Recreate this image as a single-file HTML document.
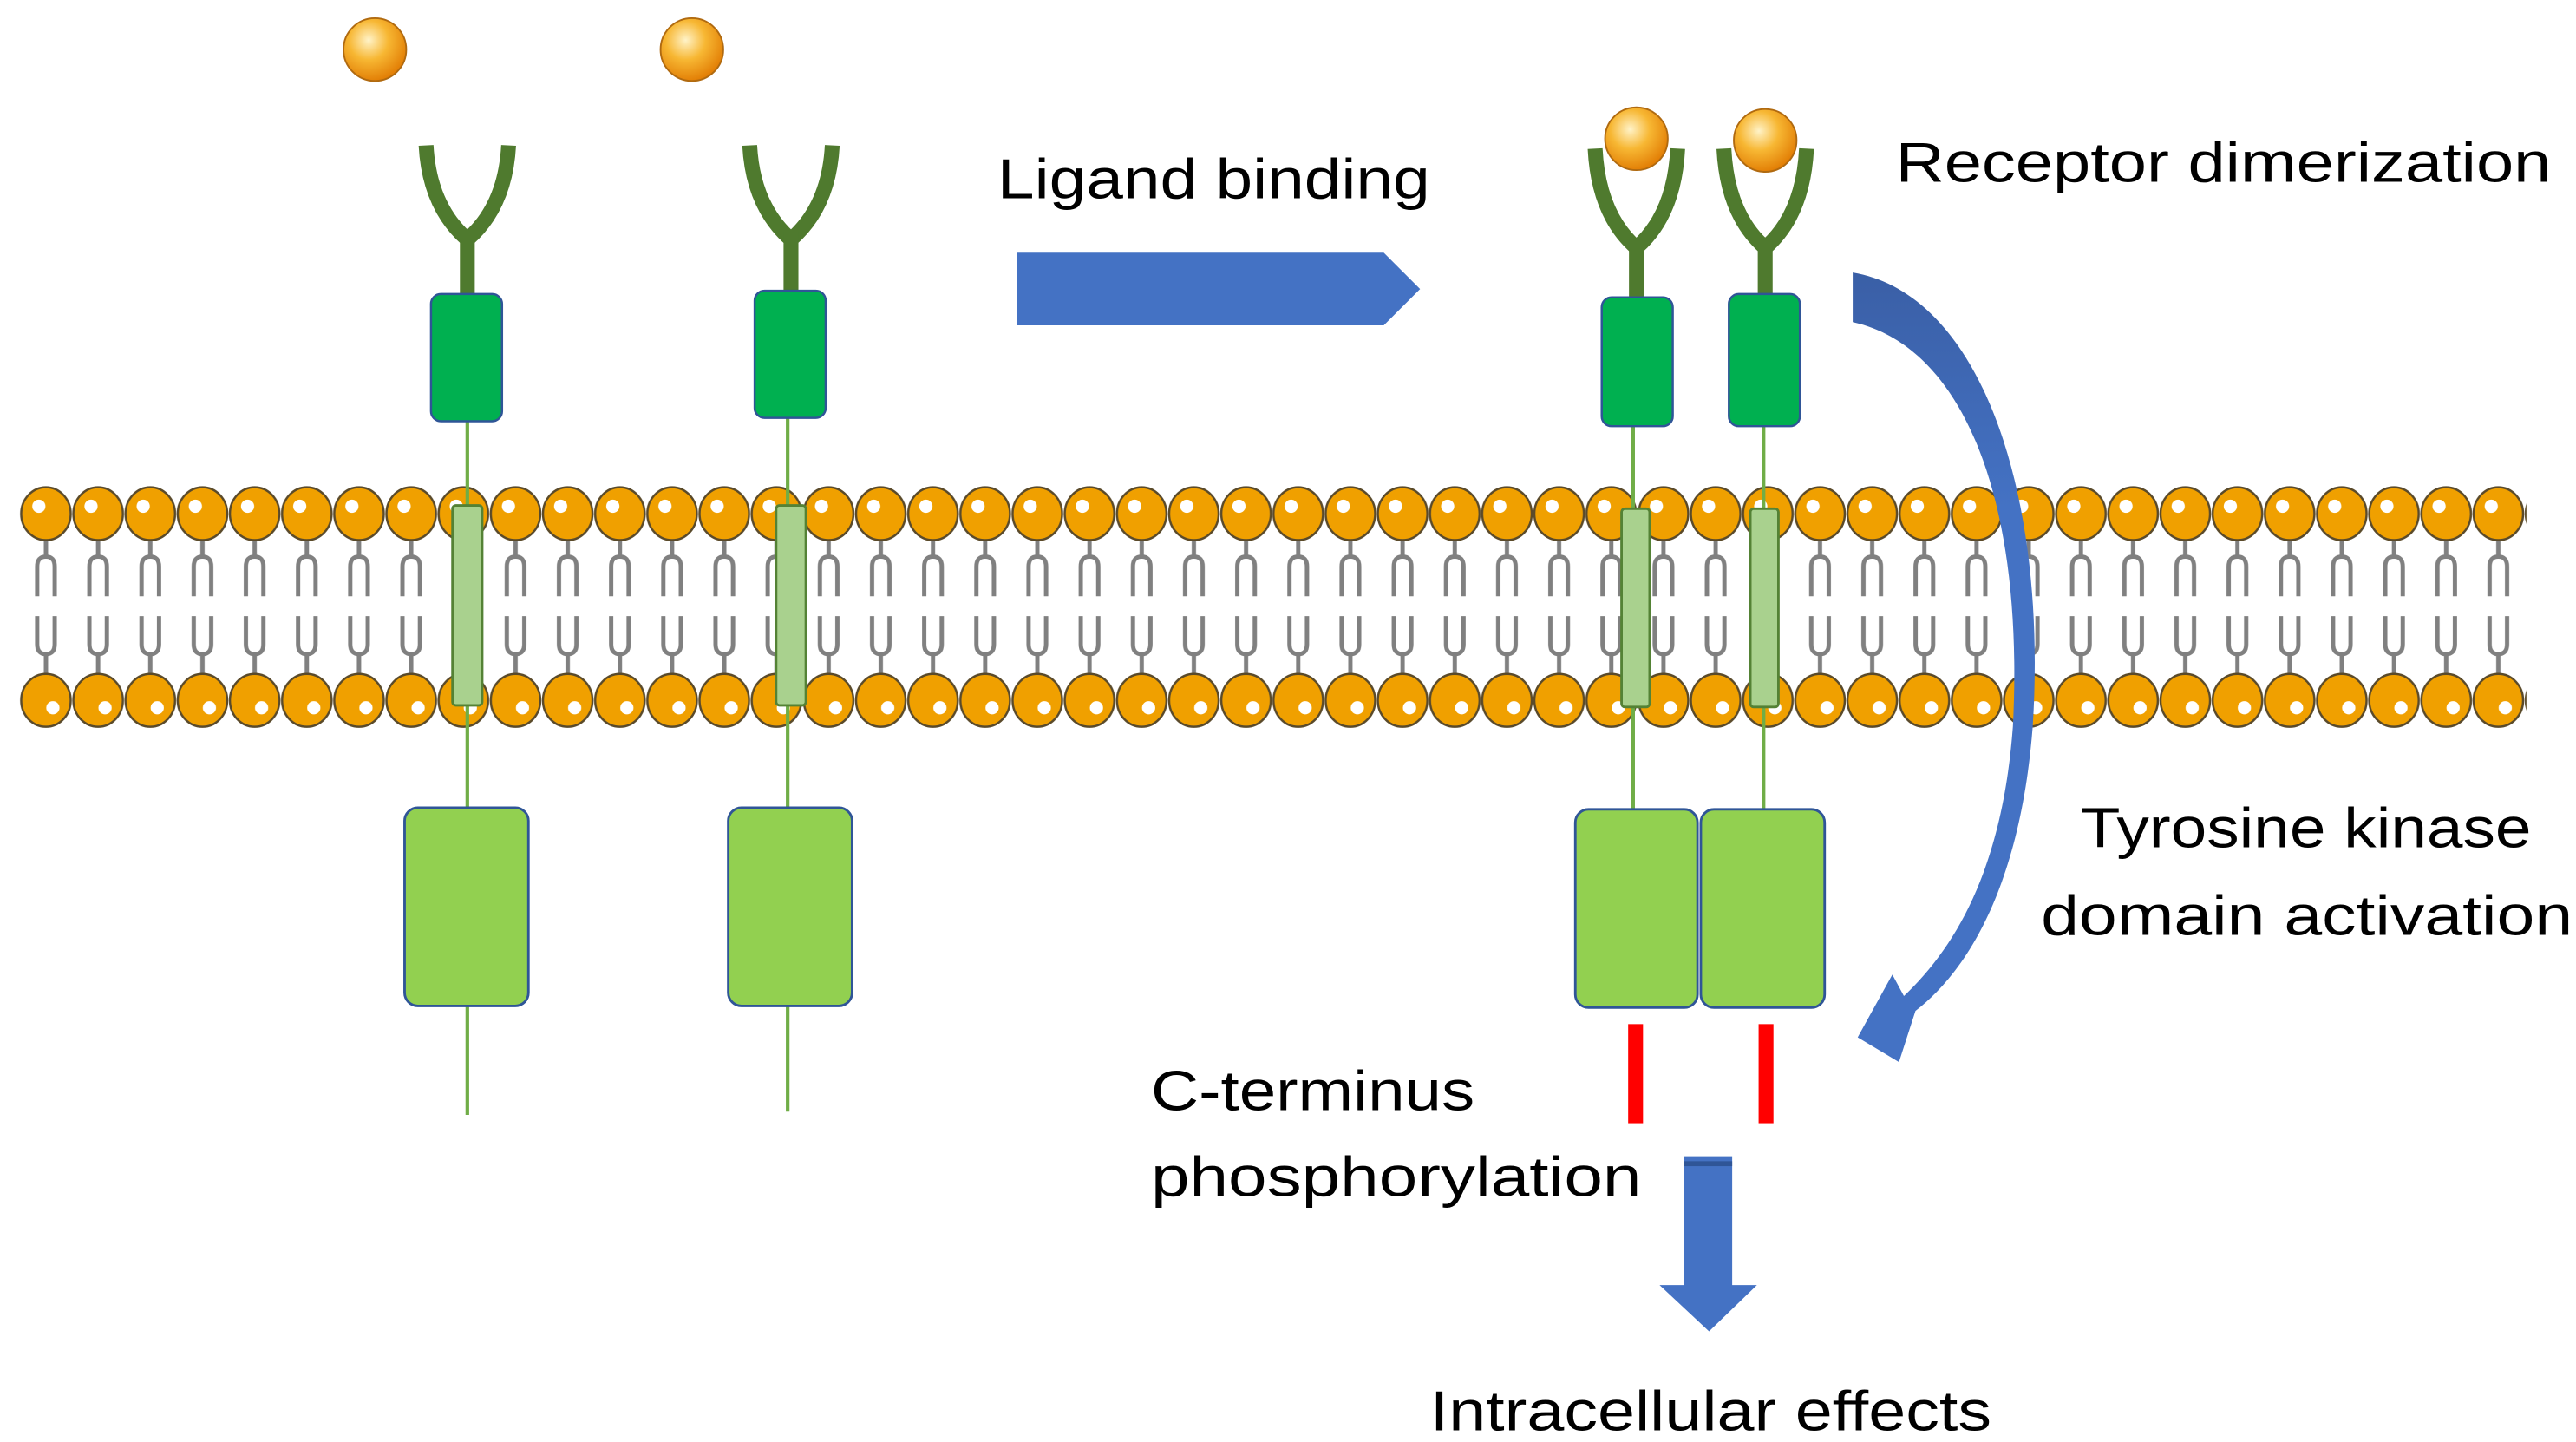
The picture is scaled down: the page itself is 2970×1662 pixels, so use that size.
<!DOCTYPE html>
<html><head><meta charset="utf-8"><style>
html,body{margin:0;padding:0;background:#fff;}
svg{display:block;}
text{font-family:"Liberation Sans",sans-serif;font-size:34px;fill:#000;}
</style></head><body>
<svg width="2970" height="1662" viewBox="0 0 1560 873" xmlns="http://www.w3.org/2000/svg">
<defs>
<radialGradient id="lg" cx="0.4" cy="0.35" r="0.7">
<stop offset="0" stop-color="#fff3c8"/><stop offset="0.45" stop-color="#f7b733"/><stop offset="1" stop-color="#e07800"/>
</radialGradient>
<linearGradient id="cg" x1="0" y1="0" x2="0" y2="1">
<stop offset="0" stop-color="#3a5fa6"/><stop offset="0.3" stop-color="#4472c4"/><stop offset="1" stop-color="#4472c4"/>
</linearGradient>
<pattern id="lip" patternUnits="userSpaceOnUse" x="12" y="0" width="31.6" height="873">
<g fill="none" stroke="#808080" stroke-width="2.6">
<path d="M15.8 327 V338"/>
<path d="M10.5 361 V343 Q10.5 337 15.8 337 Q21.1 337 21.1 343 V361"/>
<path d="M10.5 373 V390 Q10.5 396 15.8 396 Q21.1 396 21.1 390 V373"/>
<path d="M15.8 396 V409"/>
</g>
<ellipse cx="15.8" cy="311" rx="15" ry="16" fill="#f0a000" stroke="#5a4a2a" stroke-width="1.3"/>
<circle cx="11.5" cy="306.5" r="4" fill="#fff"/>
<ellipse cx="15.8" cy="424" rx="15" ry="16" fill="#f0a000" stroke="#5a4a2a" stroke-width="1.3"/>
<circle cx="20" cy="428.5" r="4" fill="#fff"/>
</pattern>
</defs>
<rect width="1560" height="873" fill="#fff"/>
<rect x="12" y="290" width="1518" height="152" fill="url(#lip)"/>

<circle cx="227" cy="30" r="19" fill="url(#lg)" stroke="#b06a10" stroke-width="1"/>
<circle cx="419" cy="30" r="19" fill="url(#lg)" stroke="#b06a10" stroke-width="1"/>

<g stroke-linecap="butt">
<line x1="283" y1="255" x2="283" y2="675" stroke="#70ad47" stroke-width="2.2"/>
<path d="M258 88 Q260 125 283 145 Q306 125 308 88" fill="none" stroke="#4f7a2e" stroke-width="9"/>
<line x1="283" y1="140" x2="283" y2="180" stroke="#4f7a2e" stroke-width="9"/>
<rect x="261" y="178" width="43" height="77" rx="6" fill="#00b050" stroke="#2f5597" stroke-width="1.3"/>
<rect x="274" y="306" width="18" height="121" rx="2" fill="#a9d18e" stroke="#548235" stroke-width="1.5"/>
<rect x="245" y="489" width="75" height="120" rx="8" fill="#92d050" stroke="#2f5597" stroke-width="1.5"/>

<line x1="477" y1="253" x2="477" y2="673" stroke="#70ad47" stroke-width="2.2"/>
<path d="M454 88 Q456 125 479 145 Q502 125 504 88" fill="none" stroke="#4f7a2e" stroke-width="9"/>
<line x1="479" y1="140" x2="479" y2="178" stroke="#4f7a2e" stroke-width="9"/>
<rect x="457" y="176" width="43" height="77" rx="6" fill="#00b050" stroke="#2f5597" stroke-width="1.3"/>
<rect x="470" y="306" width="18" height="121" rx="2" fill="#a9d18e" stroke="#548235" stroke-width="1.5"/>
<rect x="441" y="489" width="75" height="120" rx="8" fill="#92d050" stroke="#2f5597" stroke-width="1.5"/>

<line x1="989" y1="258" x2="989" y2="490" stroke="#70ad47" stroke-width="2.2"/>
<path d="M966 90 Q968 130 991 150 Q1014 130 1016 90" fill="none" stroke="#4f7a2e" stroke-width="9"/>
<line x1="991" y1="145" x2="991" y2="182" stroke="#4f7a2e" stroke-width="9"/>
<circle cx="991" cy="84" r="19" fill="url(#lg)" stroke="#b06a10" stroke-width="1"/>
<rect x="970" y="180" width="43" height="78" rx="6" fill="#00b050" stroke="#2f5597" stroke-width="1.3"/>
<rect x="982" y="308" width="17" height="120" rx="2" fill="#a9d18e" stroke="#548235" stroke-width="1.5"/>
<rect x="954" y="490" width="74" height="120" rx="8" fill="#92d050" stroke="#2f5597" stroke-width="1.5"/>
<rect x="986" y="620" width="9" height="60" fill="#ff0000"/>

<line x1="1068" y1="256" x2="1068" y2="490" stroke="#70ad47" stroke-width="2.2"/>
<path d="M1044 90 Q1046 130 1069 150 Q1092 130 1094 90" fill="none" stroke="#4f7a2e" stroke-width="9"/>
<line x1="1069" y1="145" x2="1069" y2="180" stroke="#4f7a2e" stroke-width="9"/>
<circle cx="1069" cy="85" r="19" fill="url(#lg)" stroke="#b06a10" stroke-width="1"/>
<rect x="1047" y="178" width="43" height="80" rx="6" fill="#00b050" stroke="#2f5597" stroke-width="1.3"/>
<rect x="1060" y="308" width="17" height="120" rx="2" fill="#a9d18e" stroke="#548235" stroke-width="1.5"/>
<rect x="1030" y="490" width="75" height="120" rx="8" fill="#92d050" stroke="#2f5597" stroke-width="1.5"/>
<rect x="1065" y="620" width="9" height="60" fill="#ff0000"/>
</g>

<path d="M616 153 H838 L860 175 L838 197 H616 Z" fill="#4472c4"/>

<path d="M1122 165 C1200 178 1240 300 1231 440 C1224 530 1195 585 1160 612 L1150 643 L1125 628 L1146 590 L1153 603 C1188 570 1213 520 1219 440 C1226 305 1190 210 1122 195 Z" fill="url(#cg)"/>

<path d="M1020 700 H1049 V778 H1064 L1035 806 L1005 778 H1020 Z" fill="#4472c4"/>
<rect x="1020" y="703" width="29" height="3" fill="#2f5597"/>

<text x="604" y="120" textLength="262" lengthAdjust="spacingAndGlyphs">Ligand binding</text>
<text x="1148" y="110" textLength="397" lengthAdjust="spacingAndGlyphs">Receptor dimerization</text>
<text x="1260" y="513" textLength="273" lengthAdjust="spacingAndGlyphs">Tyrosine kinase</text>
<text x="1236" y="566" textLength="322" lengthAdjust="spacingAndGlyphs">domain activation</text>
<text x="697" y="672" textLength="196" lengthAdjust="spacingAndGlyphs">C-terminus</text>
<text x="697" y="724" textLength="297" lengthAdjust="spacingAndGlyphs">phosphorylation</text>
<text x="866" y="866" textLength="340" lengthAdjust="spacingAndGlyphs">Intracellular effects</text>
</svg>
</body></html>
